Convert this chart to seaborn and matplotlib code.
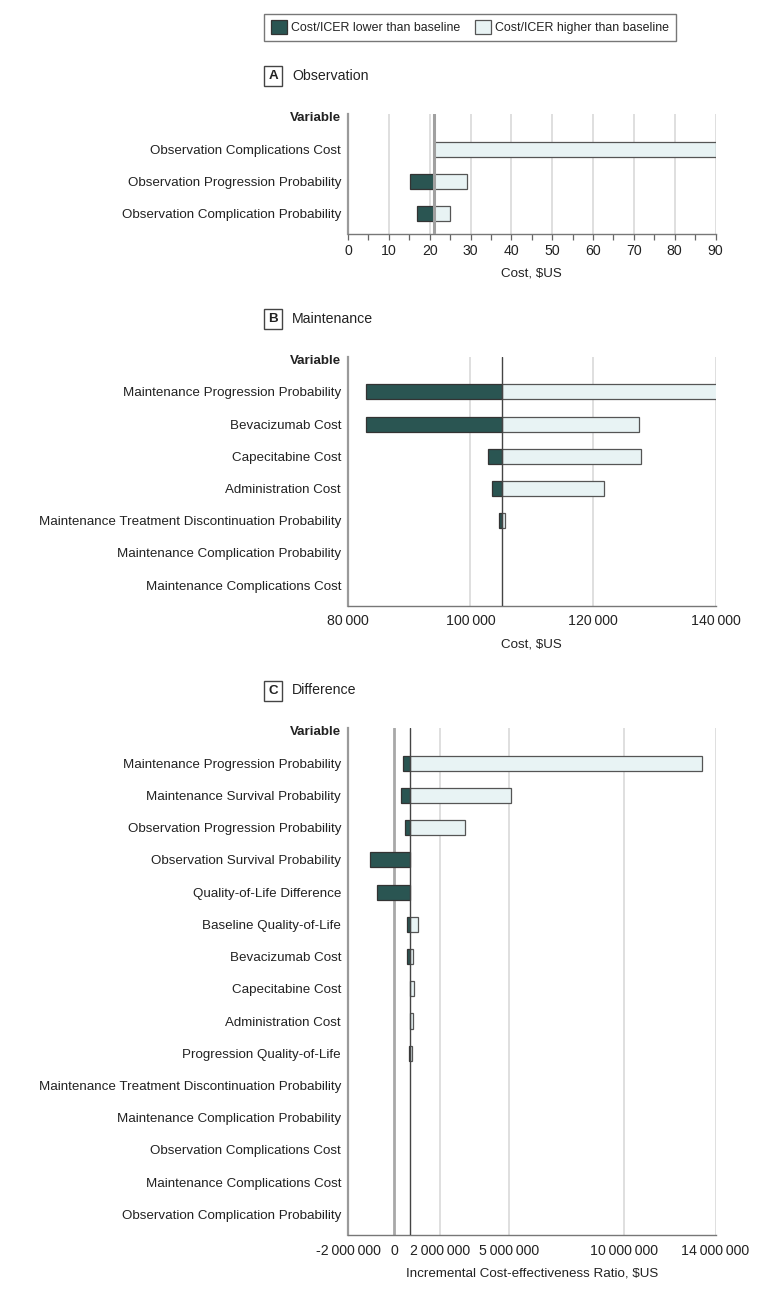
import numpy as np
import pandas as pd
import matplotlib
matplotlib.use("Agg")
import matplotlib.pyplot as plt
import matplotlib.patches as mpatches
from matplotlib.ticker import FixedLocator, FixedFormatter
import seaborn as sns

# ---------------- data ----------------
obs_vars = ["Observation Complications Cost",
            "Observation Progression Probability",
            "Observation Complication Probability"]
obs_low = [np.nan, 15.3, 16.8]
obs_high = [90.0, 29.1, 25.1]
obs_base = 21.1

maint_vars = ["Maintenance Progression Probability",
              "Bevacizumab Cost",
              "Capecitabine Cost",
              "Administration Cost",
              "Maintenance Treatment Discontinuation Probability",
              "Maintenance Complication Probability",
              "Maintenance Complications Cost"]
maint_low = [82940, 82940, 102900, 103500, 104700, np.nan, np.nan]
maint_high = [140300, 127460, 127900, 121750, 105700, np.nan, np.nan]
maint_base = 105200

diff_vars = ["Maintenance Progression Probability",
             "Maintenance Survival Probability",
             "Observation Progression Probability",
             "Observation Survival Probability",
             "Quality-of-Life Difference",
             "Baseline Quality-of-Life",
             "Bevacizumab Cost",
             "Capecitabine Cost",
             "Administration Cost",
             "Progression Quality-of-Life",
             "Maintenance Treatment Discontinuation Probability",
             "Maintenance Complication Probability",
             "Observation Complications Cost",
             "Maintenance Complications Cost",
             "Observation Complication Probability"]
diff_low = [380000, 310000, 480000, -1040000, -730000, 550000, 580000,
            np.nan, np.nan, 670000, np.nan, np.nan, np.nan, np.nan, np.nan]
diff_high = [13400000, 5100000, 3080000, np.nan, np.nan, 1040000, 850000,
             870000, 830000, 780000, np.nan, np.nan, np.nan, np.nan, np.nan]
diff_base = 715000

obs_ticks = [0, 10, 20, 30, 40, 50, 60, 70, 80, 90]
obs_ticklabels = ["0", "10", "20", "30", "40", "50", "60", "70", "80", "90"]
maint_ticks = [80000, 100000, 120000, 140000]
maint_ticklabels = ["80\u2009000", "100\u2009000", "120\u2009000", "140\u2009000"]
diff_ticks = [-2000000, 0, 2000000, 5000000, 10000000, 14000000]
diff_ticklabels = ["-2\u2009000\u2009000", "0", "2\u2009000\u2009000",
                   "5\u2009000\u2009000", "10\u2009000\u2009000", "14\u2009000\u2009000"]

legend_labels = ["Cost/ICER lower than baseline", "Cost/ICER higher than baseline"]

# ---------------- style ----------------
sns.set_theme(style="white")
plt.rcParams["font.family"] = ["Liberation Sans", "DejaVu Sans"]
FS = 9.6
TXT = "#222222"
DARK = "#2a5552"
LIGHT = "#e8f3f4"
EDGE = "#555555"
GRID = "#d6d6d6"
SPINE = "#9a9a9a"

W, H = 780, 1290
fig = plt.figure(figsize=(W / 100, H / 100), dpi=100)

def fx(px):
    return px / W

def fy(py):
    return 1 - py / H

LEFT, RIGHT = 348, 715.5
SP = 32.3

def make_axes(top, bottom):
    return fig.add_axes([fx(LEFT), fy(bottom), fx(RIGHT - LEFT), (bottom - top) / H])

def tornado(ax, variables, low, high, base, xlim, ticks, ticklabels, xlabel,
            grid_ticks, minor=None, base_style="dark", zero_line=False):
    n = len(variables)
    df = pd.DataFrame({"var": variables, "low": low, "high": high})
    y = np.arange(n)
    lw_w = df["low"] - base
    hw_w = df["high"] - base
    ax.barh(y, lw_w, left=base, height=0.47, color=DARK, edgecolor="#333333",
            linewidth=0.9, zorder=3)
    ax.barh(y, hw_w, left=base, height=0.47, color=LIGHT, edgecolor=EDGE,
            linewidth=0.9, zorder=3)
    for g in grid_ticks:
        ax.axvline(g, color=GRID, lw=1.1, zorder=1)
    if zero_line:
        ax.axvline(0, color="#a8a8a8", lw=2.0, zorder=2)
    if base_style == "dark":
        ax.axvline(base, color="#444444", lw=1.0, zorder=4)
    else:
        ax.axvline(base, color="#a0a0a0", lw=2.2, zorder=4)
    ax.set_xlim(*xlim)
    ax.set_ylim(n - 1 + 0.65, -1 - 3 / SP)
    ax.set_yticks([-1] + list(y))
    ax.set_yticklabels(["Variable"] + variables, fontsize=FS, color=TXT)
    ax.get_yticklabels()[0].set_fontweight("bold")
    ax.xaxis.set_major_locator(FixedLocator(ticks))
    ax.xaxis.set_major_formatter(FixedFormatter(ticklabels))
    ax.tick_params(axis="y", length=0, pad=5)
    ax.tick_params(axis="x", labelsize=FS + 0.6, colors=TXT)
    if minor is not None:
        ax.set_xticks(minor, minor=True)
        ax.tick_params(axis="x", which="both", bottom=True, length=4,
                       width=0.9, color="#666666", pad=3)
    else:
        ax.tick_params(axis="x", length=0, pad=6)
    ax.set_xlabel(xlabel, fontsize=FS, color=TXT, labelpad=7)
    sns.despine(ax=ax, top=True, right=True)
    ax.spines["left"].set_color(SPINE)
    ax.spines["left"].set_linewidth(1.6)
    ax.spines["bottom"].set_color("#777777")
    ax.spines["bottom"].set_linewidth(1.0)
    ax.grid(False)

# Panel A
axA = make_axes(114, 234.3)
tornado(axA, obs_vars, obs_low, obs_high, obs_base, (0, 90), obs_ticks,
        obs_ticklabels, "Cost, $US", obs_ticks[1:],
        minor=list(np.arange(5, 90, 10)), base_style="gray")

# Panel B
axB = make_axes(356.7, 606)
tornado(axB, maint_vars, maint_low, maint_high, maint_base, (80000, 140000),
        maint_ticks, maint_ticklabels, "Cost, $US", maint_ticks[1:])

# Panel C
axC = make_axes(728, 1235.3)
tornado(axC, diff_vars, diff_low, diff_high, diff_base, (-2000000, 14000000),
        diff_ticks, diff_ticklabels, "Incremental Cost-effectiveness Ratio, $US",
        diff_ticks[2:], zero_line=True)

# Panel titles
def panel_title(letter, title, ycenter):
    rect = mpatches.Rectangle((fx(264), fy(ycenter + 10)), fx(18), 20 / H,
                              transform=fig.transFigure, fill=False,
                              edgecolor="#444444", lw=1.0)
    fig.patches.append(rect)
    fig.text(fx(273), fy(ycenter), letter, ha="center", va="center",
             fontsize=FS, fontweight="bold", color=TXT)
    fig.text(fx(292), fy(ycenter), title, ha="left", va="center",
             fontsize=FS + 0.6, color=TXT)

panel_title("A", "Observation", 76)
panel_title("B", "Maintenance", 319)
panel_title("C", "Difference", 690.5)

# Legend
handles = [mpatches.Patch(facecolor=DARK, edgecolor="#333333", lw=0.9),
           mpatches.Patch(facecolor=LIGHT, edgecolor=EDGE, lw=0.9)]
leg = fig.legend(handles, legend_labels, loc="upper left",
                 bbox_to_anchor=(fx(264), fy(13.5)), ncol=2, frameon=True,
                 fancybox=False, fontsize=8.9, handlelength=1.3, handleheight=1.3,
                 handletextpad=0.35, columnspacing=1.15, borderpad=0.55,
                 borderaxespad=0)
leg.get_frame().set_edgecolor("#555555")
leg.get_frame().set_linewidth(1.0)
for t in leg.get_texts():
    t.set_color(TXT)

fig.savefig("out.png", dpi=100)
